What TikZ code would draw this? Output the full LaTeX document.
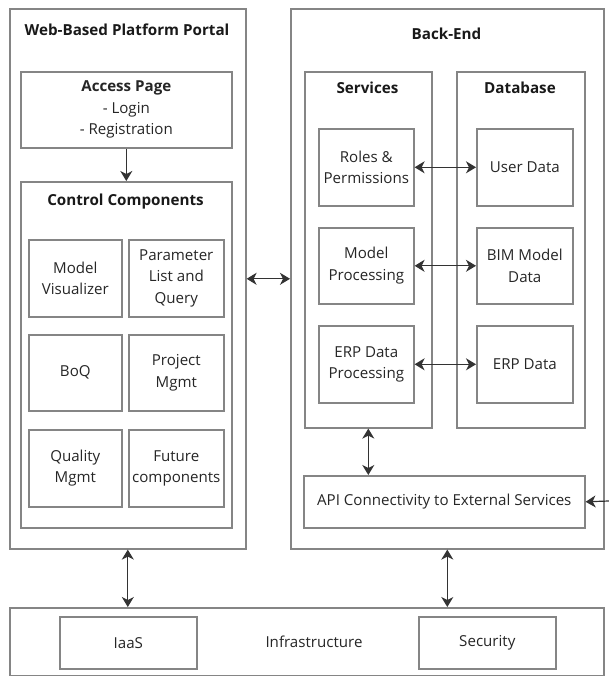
\documentclass[tikz,border=0pt]{standalone}
\usepackage{fontspec}
\setmainfont{Open Sans}
\usetikzlibrary{arrows.meta}
\definecolor{boxline}{HTML}{858585}
\definecolor{arrowc}{HTML}{333333}
\begin{document}
\begin{tikzpicture}[x=1pt,y=-1pt,
  box/.style={draw=boxline, line width=1.6pt, rectangle, inner sep=0pt, anchor=north west, align=center, font=\fontsize{15.1}{21.5}\selectfont, text=black!85},
  ttl/.style={font=\fontsize{15.2}{18}\selectfont\bfseries, text=black!90},
  conn/.style={draw=arrowc, line width=1.2pt, {Stealth[length=10pt,width=12pt,inset=3pt]}-{Stealth[length=10pt,width=12pt,inset=3pt]}},
  oneway/.style={draw=arrowc, line width=1.2pt, -{Stealth[length=10pt,width=12pt,inset=3pt]}}
]
\useasboundingbox (0,0) rectangle (609,676);
\fill[white] (0,0) rectangle (609,676);
% Portal
\node[box, minimum width=236pt, minimum height=540pt] (portal) at (9,8) {};
\node[ttl] (portalt) at (127,30) {Web-Based Platform Portal};
\node[box, minimum width=211pt, minimum height=76pt] (access) at (20,71) {\textbf{Access Page}\\- Login\\- Registration};
\node[box, minimum width=211pt, minimum height=346pt] (control) at (20,181) {};
\node[ttl] (controlt) at (125.5,202) {Control Components};
\node[box, minimum width=93pt, minimum height=77pt] (viz) at (28,239) {Model\\Visualizer};
\node[box, minimum width=95pt, minimum height=77pt] (param) at (128,239) {Parameter\\List and\\Query};
\node[box, minimum width=93pt, minimum height=76pt] (boq) at (28,334) {BoQ};
\node[box, minimum width=95pt, minimum height=76pt] (pm) at (128,334) {Project\\Mgmt};
\node[box, minimum width=93pt, minimum height=77pt] (qm) at (28,429) {Quality\\Mgmt};
\node[box, minimum width=95pt, minimum height=77pt] (fc) at (128,429) {Future\\components};
% Back-End
\node[box, minimum width=313pt, minimum height=540pt] (backend) at (290,8) {};
\node[ttl] (backendt) at (446.5,34) {Back-End};
\node[box, minimum width=127pt, minimum height=356pt] (services) at (304,71) {};
\node[ttl] (servicest) at (367.5,88) {Services};
\node[box, minimum width=128pt, minimum height=356pt] (db) at (456,71) {};
\node[ttl] (dbt) at (520,88) {Database};
\node[box, minimum width=95pt, minimum height=77pt] (roles) at (318,128) {Roles \&\\Permissions};
\node[box, minimum width=95pt, minimum height=76pt] (mproc) at (318,227) {Model\\Processing};
\node[box, minimum width=95pt, minimum height=77pt] (erpp) at (318,325) {ERP Data\\Processing};
\node[box, minimum width=96pt, minimum height=77pt] (user) at (476,128) {User Data};
\node[box, minimum width=96pt, minimum height=76pt] (bim) at (476,227) {BIM Model\\Data};
\node[box, minimum width=96pt, minimum height=77pt] (erpd) at (476,325) {ERP Data};
\node[box, minimum width=281pt, minimum height=52pt] (api) at (303,475) {API Connectivity to External Services};
% Infrastructure
\node[box, minimum width=594pt, minimum height=68pt] (infra) at (9,607) {};
\node[font=\fontsize{15.1}{18}\selectfont, text=black!85] (infrat) at (314,642) {Infrastructure};
\node[box, minimum width=137pt, minimum height=52pt] (iaas) at (59,616) {IaaS};
\node[box, minimum width=137pt, minimum height=52pt] (sec) at (418,616) {Security};
% connectors
\draw[oneway] (access.south) -- (control.north);
\draw[conn] (portal.east) -- (backend.west);
\draw[conn] (roles.east) -- (user.west);
\draw[conn] (mproc.east) -- (bim.west);
\draw[conn] (erpp.east) -- (erpd.west);
\draw[conn] (services.south) -- (services.south |- api.north);
\coordinate (ext) at (609,501);
\draw[oneway] (ext) -- (api.east);
\draw[conn] (portal.south) -- (portal.south |- infra.north);
\draw[conn] (backend.south) -- (backend.south |- infra.north);
\end{tikzpicture}
\end{document}
